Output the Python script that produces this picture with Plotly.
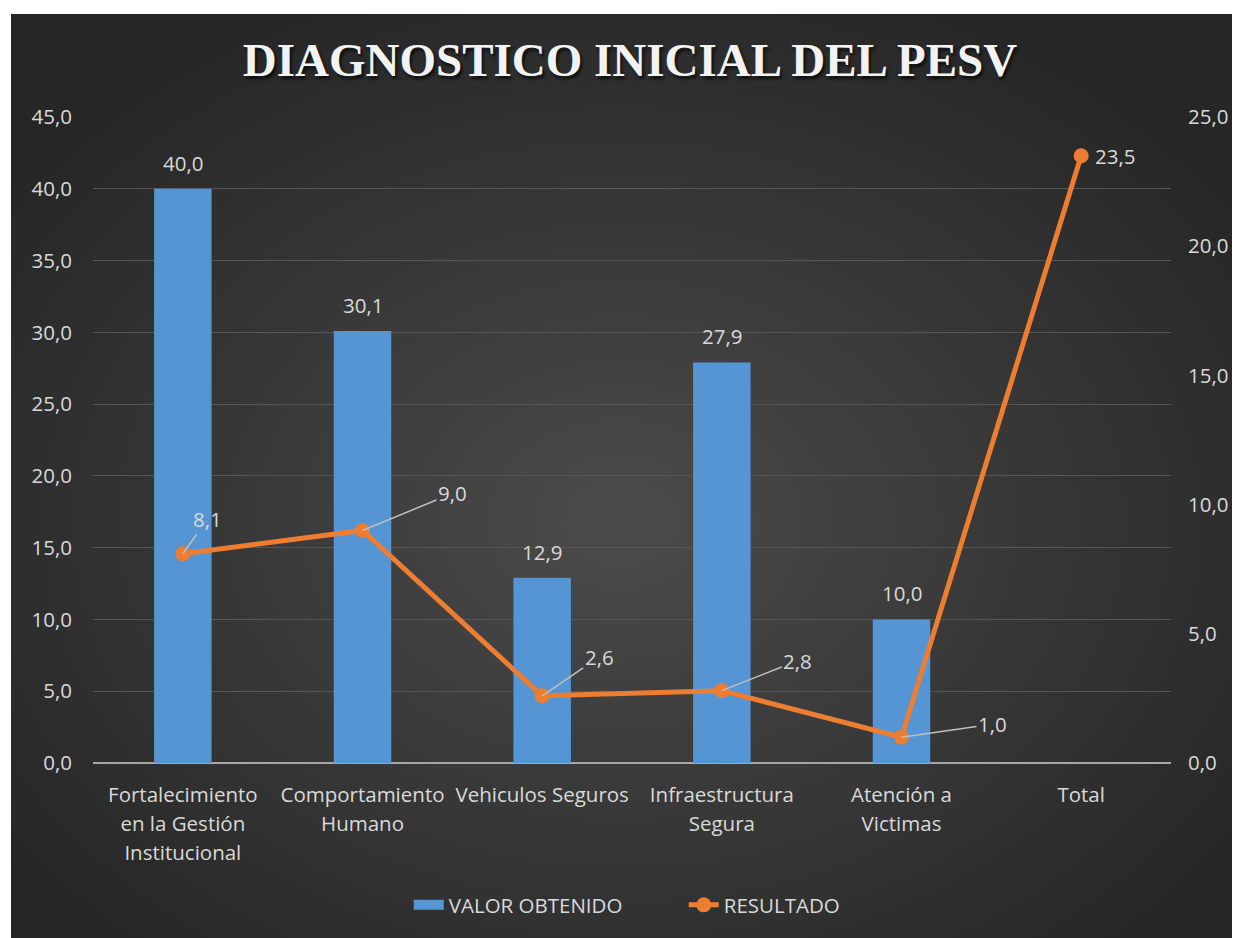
import base64
import plotly.graph_objects as go

categories = ["Fortalecimiento<br>en la Gestión<br>Institucional", "Comportamiento<br>Humano",
              "Vehiculos Seguros", "Infraestructura<br>Segura", "Atención a<br>Victimas", "Total"]
valor_obtenido = [40.0, 30.1, 12.9, 27.9, 10.0, None]
resultado = [8.1, 9.0, 2.6, 2.8, 1.0, 23.5]
label_dx = [25, 90, 57, 76, 91, 34]
label_dy = [-35, -37, -39, -30, -13, 0]

# page has an 8px body margin; keep the figure inside the visible area
W, H = 1224, 930
ML, MR, MT, MB = 85, 61, 109, 175
PW, PH = W - ML - MR, H - MT - MB

FONT = "Open Sans"
TXT = "#d9d9d9"
FS = 20.5

BG_W, BG_H = W - 3, H - 6
svg = f'''<svg xmlns="http://www.w3.org/2000/svg" width="{BG_W}" height="{BG_H}" viewBox="0 0 {BG_W} {BG_H}">
<defs><radialGradient id="g" cx="0.5" cy="0.55" r="0.62">
<stop offset="0" stop-color="#4b4b4b"/><stop offset="1" stop-color="#262626"/></radialGradient></defs>
<rect width="{BG_W}" height="{BG_H}" fill="url(#g)"/></svg>'''
src = "data:image/svg+xml;base64," + base64.b64encode(svg.encode()).decode()

tick_text = [f'<span style="font-size:{FS}px">{c}</span>'.replace("<br>", f'</span><br><span style="font-size:{FS}px">')
             for c in categories]

fig = go.Figure()
fig.add_trace(go.Bar(x=categories, y=valor_obtenido, name="VALOR OBTENIDO", showlegend=False,
                     marker=dict(color="#5595d4", line=dict(width=0)), width=0.32, yaxis="y"))
# legend entry for the bars (wide swatch like the original)
fig.add_trace(go.Scatter(x=[None], y=[None], name="VALOR OBTENIDO", mode="lines",
                         line=dict(color="#5595d4", width=14), yaxis="y"))
fig.add_trace(go.Scatter(x=categories, y=resultado, name="RESULTADO", mode="lines+markers",
                         line=dict(color="#ed7d31", width=5), marker=dict(color="#ed7d31", size=15),
                         yaxis="y2"))

anns = []
for c, v in zip(categories, valor_obtenido):
    if v is None:
        continue
    anns.append(dict(x=c, y=v, xref="x", yref="y", text=f"{v:.1f}".replace(".", ","),
                     showarrow=False, yanchor="bottom", yshift=10,
                     font=dict(family=FONT, size=FS, color=TXT)))
for c, v, dx, dy in zip(categories, resultado, label_dx, label_dy):
    anns.append(dict(x=c, y=v, xref="x", yref="y2", text=f"{v:.1f}".replace(".", ","),
                     showarrow=True, ax=dx, ay=dy, arrowhead=0, arrowwidth=1.5,
                     arrowcolor="#bfbfbf" if dy != 0 else "rgba(0,0,0,0)", standoff=0,
                     font=dict(family=FONT, size=FS, color=TXT)))

fig.update_layout(
    width=W, height=H,
    margin=dict(l=ML, r=MR, t=MT, b=MB, autoexpand=False),
    paper_bgcolor="white", plot_bgcolor="rgba(0,0,0,0)",
    separators=",.",
    font=dict(family=FONT, size=FS, color=TXT),
    title=dict(text="<b>DIAGNOSTICO INICIAL DEL PESV</b>", x=622 / W, xanchor="center",
               y=1 - 52 / H, yanchor="middle",
               font=dict(family="Liberation Serif", size=47, color="#f2f2f2",
                         shadow="2px 3px 3px rgba(0,0,0,0.7)")),
    images=[dict(source=src, xref="paper", yref="paper",
                 x=(3 - ML) / PW, y=(H - MB - 6) / PH,
                 sizex=BG_W / PW, sizey=BG_H / PH, sizing="stretch",
                 xanchor="left", yanchor="top", layer="below")],
    xaxis=dict(showgrid=False, ticks="", tickfont=dict(size=22.5, color=TXT),
               tickmode="array", tickvals=categories, ticktext=tick_text,
               ticklabelstandoff=15, showline=False, automargin=False),
    yaxis=dict(range=[0, 45], dtick=5, tickformat=".1f", showgrid=True, gridcolor="#555555",
               gridwidth=1, zeroline=True, zerolinecolor="#a6a6a6", zerolinewidth=2,
               tickfont=dict(size=FS, color=TXT), ticklabelstandoff=20, automargin=False),
    yaxis2=dict(range=[0, 25], dtick=5, tickformat=".1f", overlaying="y", side="right",
                showgrid=False, zeroline=False, tickfont=dict(size=FS, color=TXT),
                ticklabelstandoff=16, automargin=False),
    legend=dict(orientation="h", x=0.548, xanchor="center", y=-142 / PH, yanchor="middle",
                font=dict(size=FS, color=TXT), bgcolor="rgba(0,0,0,0)",
                entrywidth=230, entrywidthmode="pixels"),
    annotations=anns,
    showlegend=True,
)

fig.write_html("out.html")
